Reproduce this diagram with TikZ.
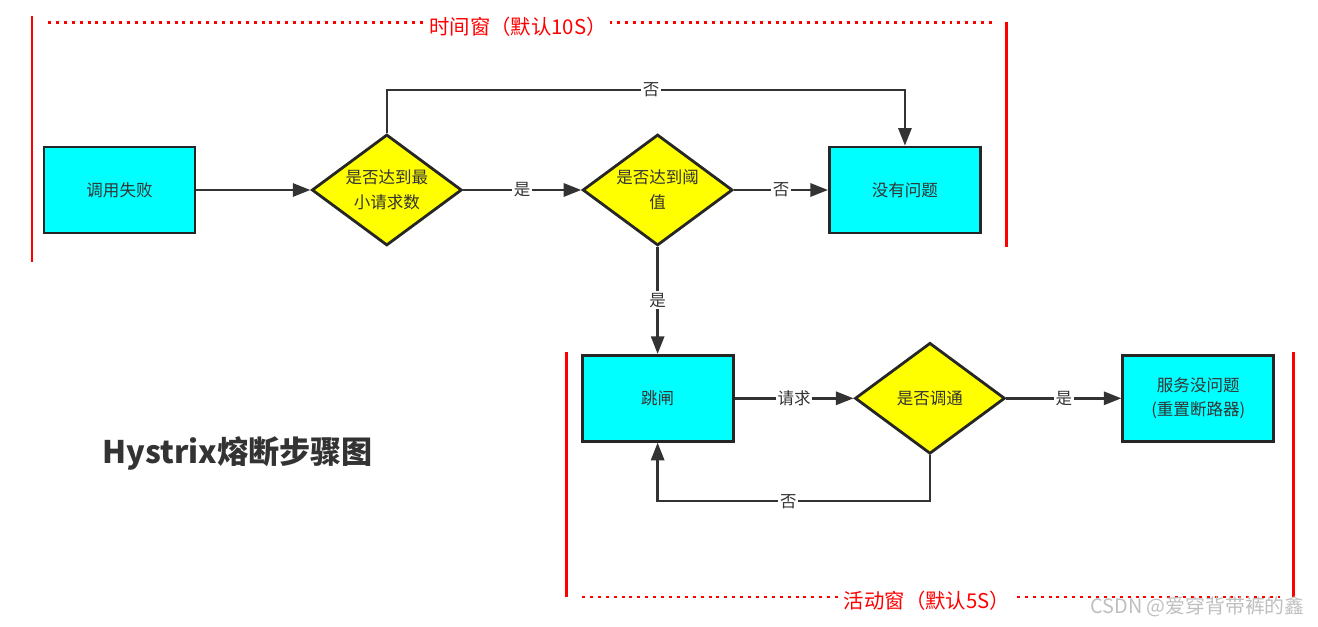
\documentclass[tikz,border=0pt]{standalone}
\usepackage{fontspec}
\setmainfont{Noto Sans CJK SC}
\usetikzlibrary{shapes.geometric, arrows.meta, positioning}
\usetikzlibrary{calc}
\definecolor{linegray}{HTML}{333333}
\definecolor{edgegray}{HTML}{262626}
\definecolor{textgray}{HTML}{333333}
\definecolor{boxcyan}{HTML}{00FFFF}
\definecolor{diayellow}{HTML}{FFFF00}
\definecolor{winred}{HTML}{FF0000}
\begin{document}
\begin{tikzpicture}[node distance=2cm, font=\fontsize{9.4}{14}\selectfont]
			% Define style
			\tikzset{
				process/.style={rectangle, minimum width=3.02cm, minimum height=1.72cm, text centered, align=center, draw=edgegray, line width=1.6pt, fill=boxcyan, text=textgray},
				decision/.style={diamond, aspect=1.35, minimum width=3cm, minimum height=2.22cm, inner sep=0pt, text centered, align=center, draw=edgegray, line width=1.6pt, fill=diayellow, text=textgray},
				arrow/.style={line width=1.4pt, draw=linegray, -{Triangle[length=10pt,width=7.5pt]}},
				tag/.style={fill=white, inner sep=1pt, text=textgray},
				window/.style={draw=winred, line width=1.7pt},
				windowdots/.style={draw=winred, line width=1.7pt, dash pattern=on 1.7pt off 2.8pt},
				windowtag/.style={fill=white, text=winred, inner sep=2pt, font=\fontsize{11.6}{13}\selectfont}
			}
			\useasboundingbox (0,0) rectangle (26.36,-12.54);
			
			% Define windows
			\draw [window] (0.64,-0.32) -- (0.64,-5.24);
			\draw [window] (20.12,-0.44) -- (20.12,-4.94);
			\draw [windowdots] (0.96,-0.46) -- (19.86,-0.46);
			\node (timewin) [windowtag] at (10.36,-0.54) {时间窗（默认10S）};
			\draw [window] (11.32,-7.04) -- (11.32,-11.94);
			\draw [window] (25.86,-7.04) -- (25.86,-11.94);
			\draw [windowdots] (11.64,-11.94) -- (25.6,-11.94);
			\node (activewin) [windowtag] at (18.54,-12.02) {活动窗（默认5S）};
			
			% Define blocks
			\node (fail) [process] at (2.39,-3.8) {调用失败};
			\node (minreq) [decision, right=2.28cm of fail] {是否达到最\\小请求数};
			\node (limit) [decision, right=2.36cm of minreq] {是否达到阈\\值};
			\node (fine) [process, right=1.88cm of limit] {没有问题};
			\node (trip) [process, below=2.14cm of limit] {跳闸};
			\node (probe) [decision, right=2.38cm of trip] {是否调通};
			\node (reset) [process, right=2.3cm of probe] {服务没问题\\(重置断路器)};
			\node (title) [text=textgray, font=\fontsize{17.7}{20}\selectfont\bfseries] at (4.75,-9.06) {Hystrix熔断步骤图};
			\node (mark) [text=black!25, font=\fontsize{11.3}{13}\selectfont] at (23.95,-12.14) {CSDN @爱穿背带裤的鑫};
			
			% Define arrows
			\draw [arrow] (fail) -- (minreq);
			\draw [arrow] (minreq) -- node[tag] {是} (limit);
			\draw [arrow] (limit) -- node[tag] {否} (fine);
			\draw [arrow] (minreq.north) -- ++(0,0.86) -| node[tag, pos=0.255] {否} (fine.north);
			\draw [arrow] (limit) -- node[tag] {是} (trip);
			\draw [arrow] (trip) -- node[tag] {请求} (probe);
			\draw [arrow] (probe) -- node[tag] {是} (reset);
			\draw [arrow] (probe.south) -- ++(0,-0.92) -| node[tag, pos=0.26] {否} (trip.south);
		\end{tikzpicture}
\end{document}
